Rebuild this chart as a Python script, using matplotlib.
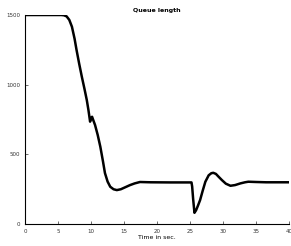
import matplotlib
matplotlib.use("Agg")
import matplotlib.pyplot as plt

# queue length
time_s = [0, 5.5, 5.9, 6.3, 6.7, 7.1, 7.5, 7.8, 8.2, 8.6, 9.0, 9.35, 9.6,
          9.85, 10.0, 10.15, 10.3, 10.6, 11.0, 11.4, 11.8, 12.1, 12.5, 12.9,
          13.4, 13.9, 14.5, 15.2, 15.9, 16.6, 17.4, 19, 22, 25.2, 25.3, 25.45,
          25.65, 25.9, 26.2, 26.5, 26.9, 27.3, 27.8, 28.2, 28.5, 28.9, 29.3,
          29.8, 30.4, 31.1, 31.8, 32.6, 33.3, 33.8, 35, 36.5, 40]
queue = [1500, 1500, 1498, 1490, 1465, 1416, 1330, 1249, 1150, 1057, 970,
         890, 818, 735, 760, 770, 750, 711, 640, 555, 450, 366, 305, 268,
         250, 244, 250, 265, 280, 292, 302, 300, 299, 299, 270, 180, 81, 100,
         135, 172, 240, 304, 350, 365, 368, 360, 340, 316, 290, 275, 280, 292,
         300, 304, 302, 300, 300]
xticks = [0, 5, 10, 15, 20, 25, 30, 35, 40]
yticks = [0, 500, 1000, 1500]

fig = plt.figure(figsize=(2.91, 2.46), dpi=100)
ax = fig.add_axes([0.086, 0.089, 0.908, 0.85])
ax.plot(time_s, queue, color="black", linewidth=1.8)
ax.set_xlim(0, 40)
ax.set_ylim(0, 1500)
ax.set_xticks(xticks)
ax.set_yticks(yticks)
ax.tick_params(direction="in", labelsize=4, length=2, width=0.5, colors="#333333")
for side in ["top", "right"]:
    ax.spines[side].set_visible(False)
for side in ["left", "bottom"]:
    ax.spines[side].set_linewidth(0.8)
ax.set_xlabel("Time in sec.", fontsize=4.5, labelpad=1)
ax.set_title("Queue length", fontsize=4.5, fontweight="bold", pad=2)
fig.savefig("out.png", dpi=100)
